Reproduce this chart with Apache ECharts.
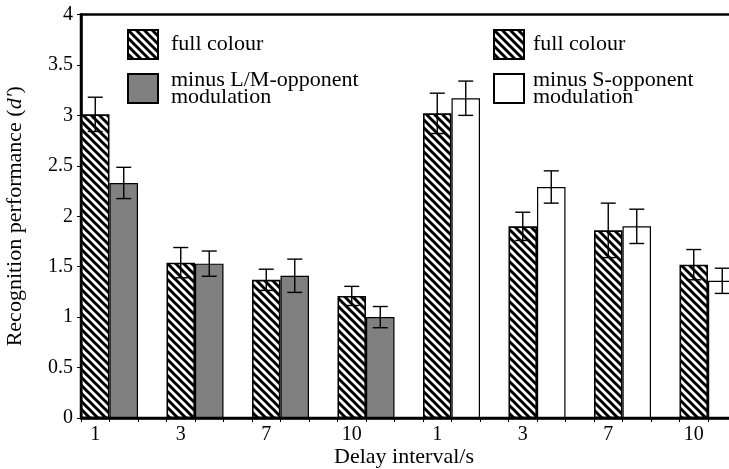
<!DOCTYPE html>
<html>
<head>
<meta charset="utf-8">
<script src="https://cdn.jsdelivr.net/npm/echarts@6/dist/echarts.min.js"></script>
<style>
html,body{margin:0;padding:0;background:#fff;overflow:hidden;}
#chart{width:729px;height:469px;}
</style>
</head>
<body>
<div id="chart"></div>
<script>
// ---- data ----
const delays = ['1', '3', '7', '10', '1', '3', '7', '10'];
const fullColour = [3.01, 1.54, 1.37, 1.21, 3.02, 1.90, 1.86, 1.52];
const fullColourErr = [0.17, 0.15, 0.105, 0.095, 0.20, 0.14, 0.27, 0.15];
const minusLM = [2.33, 1.53, 1.41, 1.00];
const minusLMErr = [0.155, 0.125, 0.165, 0.105];
const minusS = [3.17, 2.29, 1.90, 1.36];
const minusSErr = [0.17, 0.16, 0.17, 0.125];
const yTicks = [0, 0.5, 1, 1.5, 2, 2.5, 3, 3.5, 4];

const NAME_FULL = 'full colour';
const NAME_LM = 'minus L/M-opponent modulation';
const NAME_S = 'minus S-opponent modulation';

// ---- build slot layout: 3 slots per delay group ----
const nSlots = delays.length * 3;
const slots = [];
for (let i = 0; i < nSlots; i++) slots.push(String(i));
const fullData = new Array(nSlots).fill(null);
const lmData = new Array(nSlots).fill(null);
const sData = new Array(nSlots).fill(null);
const errData = [];
delays.forEach((d, k) => {
  fullData[3 * k] = fullColour[k];
  errData.push([3 * k, fullColour[k], fullColourErr[k]]);
  if (k < 4) {
    lmData[3 * k + 1] = minusLM[k];
    errData.push([3 * k + 1, minusLM[k], minusLMErr[k]]);
  } else {
    sData[3 * k + 1] = minusS[k - 4];
    errData.push([3 * k + 1, minusS[k - 4], minusSErr[k - 4]]);
  }
});

// ---- hatch pattern ----
function makeHatch() {
  const P = 8;
  const c = document.createElement('canvas');
  c.width = P; c.height = P;
  const g = c.getContext('2d');
  g.fillStyle = '#fff';
  g.fillRect(0, 0, P, P);
  g.strokeStyle = '#000';
  g.lineWidth = 3;
  for (let k = -P; k <= P; k += P) {
    g.beginPath();
    g.moveTo(k - 2, -2);
    g.lineTo(k + P + 2, P + 2);
    g.stroke();
  }
  return c;
}
const hatch = { image: makeHatch(), repeat: 'repeat' };

const FONT = "'Liberation Serif', 'Times New Roman', serif";
const chart = echarts.init(document.getElementById('chart'), null, { renderer: 'canvas' });

const legendCommon = {
  orient: 'vertical',
  top: 29,
  padding: 0,
  itemWidth: 30,
  itemHeight: 29,
  itemGap: 9,
  icon: 'rect',
  selectedMode: false,
  formatter: n => n.replace(' modulation', '\nmodulation'),
};

const option = {
  animation: false,
  backgroundColor: '#fff',
  textStyle: { fontFamily: FONT, color: '#000' },
  grid: {
    left: 81, top: 14.5, width: 684, bottom: 51,
    outerBoundsMode: 'none', containLabel: false,
    show: true, borderColor: '#000', borderWidth: 2.5, backgroundColor: 'transparent'
  },
  legend: [
    Object.assign({}, legendCommon, {
      left: 127,
      data: [NAME_FULL, NAME_LM],
      textStyle: { fontFamily: FONT, fontSize: 22, lineHeight: 17, color: '#000', padding: [0, 0, 0, 8] }
    }),
    Object.assign({}, legendCommon, {
      left: 493,
      data: [NAME_FULL, NAME_S],
      textStyle: { fontFamily: FONT, fontSize: 22, lineHeight: 17, color: '#000', padding: [0, 0, 0, 4] }
    })
  ],
  xAxis: {
    type: 'category',
    data: slots,
    boundaryGap: true,
    name: 'Delay interval/s',
    nameLocation: 'middle',
    nameGap: 28,
    nameMoveOverlap: false,
    nameTextStyle: { fontFamily: FONT, fontSize: 22, color: '#000', padding: [0, 38, 0, 0] },
    axisLine: { show: true, lineStyle: { color: '#000', width: 2.5 } },
    axisTick: { show: true, interval: 0, length: 4, lineStyle: { color: '#000', width: 1 } },
    axisLabel: {
      interval: 0, margin: 7, fontFamily: FONT, fontSize: 20, color: '#000',
      formatter: (v, idx) => (idx % 3 === 0 ? delays[idx / 3] : '')
    },
    splitLine: { show: false }
  },
  yAxis: {
    type: 'value',
    min: yTicks[0],
    max: yTicks[yTicks.length - 1],
    interval: yTicks[1] - yTicks[0],
    name: 'Recognition performance ({i|d′})',
    nameLocation: 'middle',
    nameGap: 55,
    nameMoveOverlap: false,
    nameTextStyle: {
      fontFamily: FONT, fontSize: 22, color: '#000',
      rich: { i: { fontFamily: FONT, fontSize: 22, fontStyle: 'italic', color: '#000' } }
    },
    axisLine: { show: true, lineStyle: { color: '#000', width: 2.5 } },
    axisTick: { show: true, length: 4, lineStyle: { color: '#000', width: 1 } },
    axisLabel: { margin: 8, fontFamily: FONT, fontSize: 20, color: '#000' },
    splitLine: { show: false }
  },
  series: [
    {
      name: NAME_FULL, type: 'bar', data: fullData,
      barWidth: '100%', barGap: '-100%',
      itemStyle: { color: hatch, borderColor: '#000', borderWidth: 1.6 }
    },
    {
      name: NAME_LM, type: 'bar', data: lmData,
      barWidth: '100%', barGap: '-100%',
      itemStyle: { color: '#808080', borderColor: '#000', borderWidth: 1.2 }
    },
    {
      name: NAME_S, type: 'bar', data: sData,
      barWidth: '100%', barGap: '-100%',
      itemStyle: { color: '#fff', borderColor: '#000', borderWidth: 1.2 }
    },
    {
      name: 'error', type: 'custom', data: errData, z: 10,
      encode: { x: 0, y: 1 },
      renderItem: function (params, api) {
        const x = api.value(0), v = api.value(1), e = api.value(2);
        const t = api.coord([x, v + e]);
        const b = api.coord([x, v - e]);
        const h = 7.5;
        const st = { stroke: '#000', lineWidth: 1.4 };
        return {
          type: 'group',
          children: [
            { type: 'line', shape: { x1: t[0], y1: t[1], x2: b[0], y2: b[1] }, style: st },
            { type: 'line', shape: { x1: t[0] - h, y1: t[1], x2: t[0] + h, y2: t[1] }, style: st },
            { type: 'line', shape: { x1: b[0] - h, y1: b[1], x2: b[0] + h, y2: b[1] }, style: st }
          ]
        };
      }
    }
  ]
};
chart.setOption(option);
</script>
</body>
</html>
